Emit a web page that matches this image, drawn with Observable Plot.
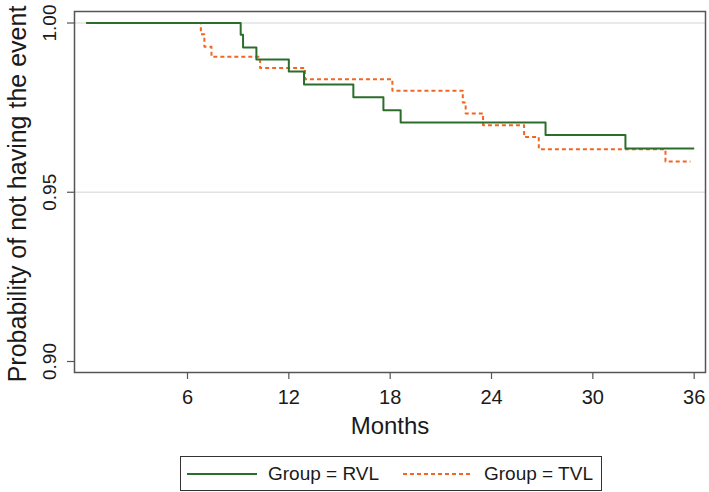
<!DOCTYPE html>
<html>
<head>
<meta charset="utf-8">
<script src="https://cdn.jsdelivr.net/npm/d3@7"></script>
<script src="https://cdn.jsdelivr.net/npm/@observablehq/plot@0.6"></script>
<style>
  html, body { margin: 0; padding: 0; background: #fff; }
  body { width: 709px; height: 492px; font-family: "Liberation Sans", Arial, sans-serif; position: relative; }
  #chart svg { display: block; overflow: visible; }
  #legend { position: absolute; left: 180px; top: 456px; width: 420px; height: 33px; border: 1px solid #333; box-sizing: content-box; }
  #legend .item { position: absolute; top: 0; height: 33px; display: flex; align-items: center; font-size: 19px; color: #1a1a1a; white-space: nowrap; }
</style>
</head>
<body>
<div id="chart"></div>
<div id="legend">
  <div class="item" style="left:6px"><svg width="70" height="6"><line x1="0" x2="70" y1="3" y2="3" stroke="#2b6e2b" stroke-width="2"/></svg><span style="margin-left:11px" id="lab0"></span></div>
  <div class="item" style="left:222px"><svg width="70" height="6"><line x1="0" x2="70" y1="3" y2="3" stroke="#f26522" stroke-width="2" stroke-dasharray="4,3"/></svg><span style="margin-left:11px" id="lab1"></span></div>
</div>
<script>
// ---- data ----
const groups = ["RVL", "TVL"];
const rvlMonths = [0, 9.15, 9.29, 10.08, 12.0, 12.9, 15.82, 17.6, 18.62, 27.2, 31.93, 36];
const rvlSurv   = [1.0, 0.9965, 0.9928, 0.9892, 0.9857, 0.9818, 0.9781, 0.9742, 0.9706, 0.9669, 0.9629, 0.9629];
const tvlMonths = [0, 6.79, 7.0, 7.42, 10.3, 12.96, 18.13, 22.3, 22.47, 23.5, 25.93, 26.8, 34.3, 35.78];
const tvlSurv   = [1.0, 0.9967, 0.9930, 0.9900, 0.9867, 0.9834, 0.9800, 0.9765, 0.9733, 0.9698, 0.9663, 0.9627, 0.9591, 0.9591];
const xTicks = [6, 12, 18, 24, 30, 36];
const yTicks = [0.90, 0.95, 1.00];
const gridTicks = [0.95, 1.00];
const xTitle = "Months";
const yTitle = "Probability of not having the event";
const legendLabels = ["Group = RVL", "Group = TVL"];

const rvl = rvlMonths.map((m, i) => ({month: m, surv: rvlSurv[i], group: groups[0]}));
const tvl = tvlMonths.map((m, i) => ({month: m, surv: tvlSurv[i], group: groups[1]}));

const font = "Liberation Sans, Arial, sans-serif";
const chart = Plot.plot({
  width: 709,
  height: 440,
  marginLeft: 74,
  marginRight: 4,
  marginTop: 11,
  marginBottom: 68,
  style: {fontFamily: font, background: "#fff", color: "#1a1a1a", overflow: "visible"},
  x: {domain: [-0.69, 36.67]},
  y: {domain: [0.89675, 1.0034]},
  marks: [
    Plot.ruleY(gridTicks, {stroke: "#e2e2e2", strokeWidth: 1.5}),
    Plot.line(tvl, {x: "month", y: "surv", curve: "step-after", stroke: "#f26522", strokeWidth: 2, strokeDasharray: "4,3", strokeLinecap: "butt"}),
    Plot.line(rvl, {x: "month", y: "surv", curve: "step-after", stroke: "#2b6e2b", strokeWidth: 2, strokeLinecap: "butt"}),
    Plot.frame({stroke: "#555", strokeWidth: 1.5}),
    Plot.axisX(xTicks, {tickSize: 7, tickPadding: 10, fontSize: 20, stroke: "#555", strokeWidth: 1.2, fill: "#1a1a1a", label: null, tickFormat: d => String(d)}),
    Plot.axisY(yTicks, {tickSize: 7, stroke: "#555", strokeWidth: 1.2, fill: "none", label: null}),
    Plot.text(yTicks, {y: d => d, text: d => d.toFixed(2), frameAnchor: "left", textAnchor: "middle", dx: -25, rotate: -90, fontSize: 19, fill: "#1a1a1a"}),
    Plot.text([xTitle], {text: d => d, frameAnchor: "bottom", textAnchor: "middle", dy: 61, fontSize: 24, fill: "#1a1a1a"}),
    Plot.text([yTitle], {text: d => d, frameAnchor: "left", textAnchor: "middle", dx: -57, dy: 2, rotate: -90, fontSize: 25, fill: "#1a1a1a"})
  ]
});
document.getElementById("chart").appendChild(chart);
document.getElementById("lab0").textContent = legendLabels[0];
document.getElementById("lab1").textContent = legendLabels[1];
</script>
</body>
</html>
